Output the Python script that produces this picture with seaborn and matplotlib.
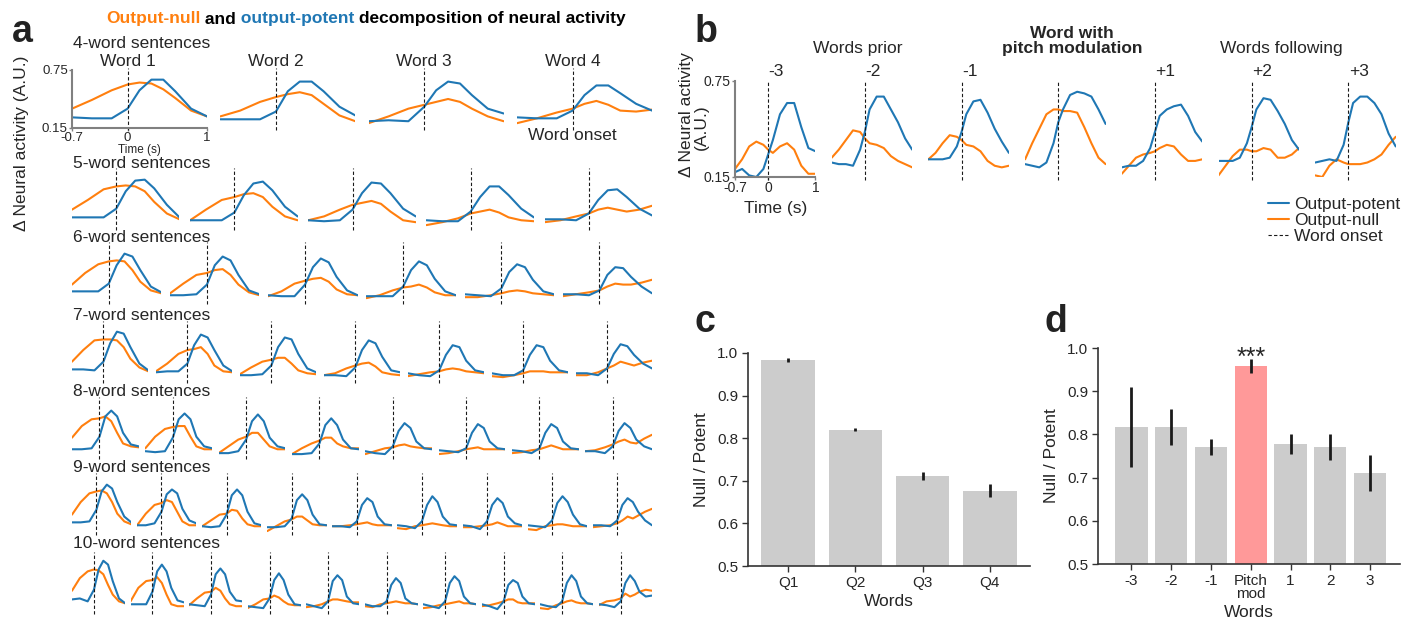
import numpy as np
import pandas as pd
import matplotlib
matplotlib.use('Agg')
import matplotlib.pyplot as plt
import seaborn as sns
from matplotlib.lines import Line2D

sns.set_theme(style='ticks')
plt.rcParams['font.family'] = ['Liberation Sans', 'DejaVu Sans']

BLUE = '#1f77b4'
ORANGE = '#ff7f0e'

# ---------------- panel a: traces per sentence length ----------------
t_a = [-0.7, -0.45, -0.2, 0.0, 0.15, 0.3, 0.45, 0.6, 0.8, 1.0]

potent_4 = [
    [0.26, 0.25, 0.25, 0.35, 0.54, 0.65, 0.65, 0.53, 0.35, 0.27],
    [0.24, 0.24, 0.24, 0.32, 0.53, 0.63, 0.63, 0.53, 0.37, 0.28],
    [0.22, 0.23, 0.22, 0.37, 0.54, 0.63, 0.61, 0.49, 0.35, 0.30],
    [0.26, 0.25, 0.25, 0.33, 0.49, 0.59, 0.59, 0.51, 0.40, 0.33],
]
null_4 = [
    [0.35, 0.44, 0.54, 0.60, 0.62, 0.61, 0.55, 0.46, 0.33, 0.27],
    [0.27, 0.33, 0.42, 0.47, 0.50, 0.52, 0.49, 0.40, 0.28, 0.22],
    [0.20, 0.27, 0.35, 0.39, 0.42, 0.45, 0.42, 0.35, 0.27, 0.22],
    [0.20, 0.25, 0.31, 0.35, 0.40, 0.43, 0.39, 0.33, 0.32, 0.34],
]
potent_5 = [
    [0.26, 0.26, 0.26, 0.35, 0.53, 0.64, 0.65, 0.56, 0.39, 0.26],
    [0.23, 0.23, 0.23, 0.31, 0.49, 0.61, 0.63, 0.54, 0.37, 0.27],
    [0.23, 0.22, 0.23, 0.34, 0.51, 0.62, 0.61, 0.51, 0.35, 0.27],
    [0.23, 0.22, 0.22, 0.32, 0.47, 0.58, 0.58, 0.49, 0.35, 0.26],
    [0.24, 0.24, 0.23, 0.30, 0.44, 0.54, 0.55, 0.47, 0.35, 0.28],
]
null_5 = [
    [0.34, 0.44, 0.55, 0.58, 0.59, 0.58, 0.53, 0.42, 0.30, 0.24],
    [0.23, 0.34, 0.44, 0.47, 0.50, 0.51, 0.47, 0.37, 0.27, 0.23],
    [0.23, 0.27, 0.34, 0.39, 0.41, 0.43, 0.40, 0.32, 0.23, 0.21],
    [0.18, 0.21, 0.25, 0.30, 0.32, 0.34, 0.31, 0.26, 0.23, 0.22],
    [0.21, 0.23, 0.27, 0.30, 0.34, 0.36, 0.34, 0.32, 0.34, 0.38],
]
potent_6 = [
    [0.26, 0.26, 0.26, 0.34, 0.53, 0.65, 0.62, 0.48, 0.31, 0.25],
    [0.22, 0.22, 0.23, 0.33, 0.53, 0.62, 0.58, 0.43, 0.27, 0.23],
    [0.22, 0.21, 0.21, 0.33, 0.51, 0.60, 0.56, 0.41, 0.27, 0.22],
    [0.21, 0.21, 0.21, 0.31, 0.48, 0.57, 0.53, 0.39, 0.26, 0.22],
    [0.23, 0.22, 0.21, 0.29, 0.46, 0.54, 0.51, 0.38, 0.26, 0.23],
    [0.23, 0.23, 0.22, 0.27, 0.43, 0.51, 0.50, 0.41, 0.31, 0.24],
]
null_6 = [
    [0.33, 0.45, 0.54, 0.57, 0.58, 0.57, 0.48, 0.36, 0.27, 0.24],
    [0.24, 0.34, 0.43, 0.45, 0.48, 0.49, 0.43, 0.33, 0.25, 0.22],
    [0.21, 0.26, 0.34, 0.37, 0.39, 0.40, 0.36, 0.28, 0.23, 0.22],
    [0.19, 0.22, 0.27, 0.30, 0.31, 0.33, 0.30, 0.25, 0.22, 0.22],
    [0.20, 0.20, 0.22, 0.24, 0.26, 0.27, 0.26, 0.24, 0.23, 0.22],
    [0.21, 0.23, 0.25, 0.27, 0.31, 0.34, 0.33, 0.33, 0.35, 0.38],
]
potent_7 = [
    [0.27, 0.27, 0.26, 0.35, 0.54, 0.66, 0.64, 0.50, 0.33, 0.26],
    [0.24, 0.25, 0.25, 0.33, 0.52, 0.63, 0.60, 0.47, 0.31, 0.25],
    [0.21, 0.21, 0.22, 0.31, 0.50, 0.60, 0.58, 0.43, 0.28, 0.24],
    [0.21, 0.21, 0.20, 0.29, 0.47, 0.57, 0.54, 0.40, 0.26, 0.24],
    [0.23, 0.21, 0.20, 0.26, 0.42, 0.52, 0.50, 0.36, 0.26, 0.24],
    [0.23, 0.21, 0.21, 0.26, 0.42, 0.52, 0.50, 0.36, 0.26, 0.24],
    [0.23, 0.23, 0.21, 0.28, 0.43, 0.53, 0.51, 0.42, 0.33, 0.28],
]
null_7 = [
    [0.35, 0.47, 0.57, 0.58, 0.58, 0.57, 0.50, 0.38, 0.29, 0.25],
    [0.25, 0.33, 0.43, 0.47, 0.48, 0.50, 0.43, 0.31, 0.25, 0.24],
    [0.22, 0.29, 0.35, 0.37, 0.39, 0.39, 0.33, 0.26, 0.23, 0.22],
    [0.21, 0.23, 0.28, 0.31, 0.33, 0.34, 0.30, 0.24, 0.22, 0.21],
    [0.20, 0.22, 0.24, 0.25, 0.27, 0.28, 0.27, 0.25, 0.24, 0.23],
    [0.20, 0.19, 0.21, 0.23, 0.25, 0.25, 0.25, 0.24, 0.24, 0.24],
    [0.21, 0.21, 0.24, 0.28, 0.31, 0.35, 0.33, 0.31, 0.34, 0.36],
]
potent_8 = [
    [0.23, 0.23, 0.24, 0.36, 0.57, 0.63, 0.57, 0.40, 0.28, 0.26],
    [0.21, 0.20, 0.21, 0.35, 0.54, 0.60, 0.54, 0.36, 0.26, 0.24],
    [0.19, 0.19, 0.21, 0.33, 0.52, 0.59, 0.52, 0.35, 0.26, 0.24],
    [0.18, 0.18, 0.19, 0.29, 0.48, 0.55, 0.48, 0.33, 0.24, 0.23],
    [0.21, 0.19, 0.18, 0.26, 0.42, 0.50, 0.45, 0.31, 0.24, 0.23],
    [0.22, 0.21, 0.20, 0.24, 0.40, 0.49, 0.45, 0.31, 0.24, 0.23],
    [0.22, 0.21, 0.19, 0.24, 0.40, 0.49, 0.45, 0.31, 0.24, 0.23],
    [0.21, 0.21, 0.19, 0.26, 0.42, 0.50, 0.45, 0.33, 0.26, 0.23],
]
null_8 = [
    [0.35, 0.47, 0.54, 0.55, 0.57, 0.52, 0.40, 0.29, 0.26, 0.25],
    [0.24, 0.36, 0.44, 0.46, 0.47, 0.47, 0.36, 0.26, 0.23, 0.23],
    [0.19, 0.26, 0.33, 0.36, 0.40, 0.40, 0.33, 0.26, 0.23, 0.23],
    [0.18, 0.24, 0.29, 0.32, 0.35, 0.35, 0.29, 0.26, 0.24, 0.24],
    [0.18, 0.21, 0.24, 0.25, 0.27, 0.28, 0.26, 0.25, 0.24, 0.24],
    [0.18, 0.19, 0.21, 0.23, 0.24, 0.25, 0.23, 0.23, 0.23, 0.23],
    [0.19, 0.20, 0.22, 0.23, 0.25, 0.27, 0.25, 0.23, 0.23, 0.23],
    [0.21, 0.22, 0.25, 0.28, 0.31, 0.33, 0.30, 0.29, 0.34, 0.38],
]
potent_9 = [
    [0.26, 0.26, 0.27, 0.39, 0.58, 0.65, 0.61, 0.47, 0.32, 0.26],
    [0.23, 0.23, 0.25, 0.37, 0.55, 0.60, 0.56, 0.40, 0.28, 0.25],
    [0.22, 0.21, 0.22, 0.34, 0.54, 0.60, 0.54, 0.37, 0.25, 0.23],
    [0.21, 0.21, 0.22, 0.30, 0.49, 0.55, 0.49, 0.34, 0.24, 0.23],
    [0.22, 0.22, 0.21, 0.27, 0.44, 0.51, 0.47, 0.32, 0.24, 0.23],
    [0.23, 0.22, 0.20, 0.27, 0.44, 0.53, 0.47, 0.32, 0.24, 0.23],
    [0.23, 0.22, 0.19, 0.27, 0.44, 0.51, 0.46, 0.32, 0.25, 0.23],
    [0.23, 0.22, 0.21, 0.28, 0.46, 0.53, 0.47, 0.34, 0.24, 0.22],
    [0.23, 0.23, 0.22, 0.28, 0.44, 0.51, 0.47, 0.37, 0.28, 0.23],
]
null_9 = [
    [0.34, 0.47, 0.56, 0.58, 0.59, 0.56, 0.47, 0.35, 0.27, 0.24],
    [0.23, 0.35, 0.44, 0.46, 0.49, 0.47, 0.37, 0.27, 0.23, 0.23],
    [0.22, 0.28, 0.34, 0.35, 0.39, 0.38, 0.30, 0.24, 0.22, 0.22],
    [0.17, 0.22, 0.27, 0.29, 0.32, 0.32, 0.28, 0.24, 0.23, 0.23],
    [0.22, 0.22, 0.23, 0.24, 0.25, 0.26, 0.24, 0.23, 0.23, 0.23],
    [0.20, 0.19, 0.22, 0.23, 0.24, 0.25, 0.24, 0.23, 0.22, 0.22],
    [0.21, 0.21, 0.22, 0.23, 0.24, 0.26, 0.24, 0.22, 0.22, 0.22],
    [0.19, 0.18, 0.22, 0.23, 0.24, 0.24, 0.23, 0.22, 0.22, 0.22],
    [0.21, 0.22, 0.23, 0.25, 0.28, 0.32, 0.30, 0.33, 0.37, 0.40],
]
potent_10 = [
    [0.28, 0.29, 0.26, 0.38, 0.59, 0.68, 0.64, 0.47, 0.29, 0.24],
    [0.23, 0.23, 0.23, 0.36, 0.57, 0.64, 0.57, 0.40, 0.27, 0.25],
    [0.23, 0.22, 0.21, 0.33, 0.54, 0.60, 0.54, 0.36, 0.27, 0.26],
    [0.21, 0.20, 0.19, 0.29, 0.48, 0.55, 0.48, 0.33, 0.23, 0.22],
    [0.23, 0.21, 0.19, 0.26, 0.47, 0.53, 0.48, 0.31, 0.24, 0.23],
    [0.23, 0.21, 0.21, 0.26, 0.43, 0.50, 0.45, 0.29, 0.24, 0.23],
    [0.23, 0.21, 0.19, 0.26, 0.45, 0.52, 0.47, 0.31, 0.24, 0.23],
    [0.23, 0.21, 0.18, 0.26, 0.43, 0.48, 0.45, 0.31, 0.24, 0.23],
    [0.23, 0.21, 0.20, 0.26, 0.45, 0.53, 0.47, 0.31, 0.24, 0.23],
    [0.23, 0.22, 0.20, 0.26, 0.45, 0.53, 0.47, 0.36, 0.31, 0.32],
]
null_10 = [
    [0.37, 0.50, 0.57, 0.59, 0.58, 0.54, 0.43, 0.33, 0.26, 0.24],
    [0.26, 0.40, 0.47, 0.48, 0.51, 0.45, 0.33, 0.23, 0.21, 0.21],
    [0.22, 0.29, 0.35, 0.36, 0.40, 0.37, 0.29, 0.23, 0.21, 0.21],
    [0.19, 0.23, 0.28, 0.29, 0.32, 0.30, 0.26, 0.23, 0.22, 0.22],
    [0.20, 0.21, 0.23, 0.26, 0.28, 0.28, 0.27, 0.26, 0.25, 0.25],
    [0.21, 0.20, 0.23, 0.24, 0.25, 0.26, 0.25, 0.24, 0.24, 0.23],
    [0.19, 0.20, 0.22, 0.23, 0.24, 0.25, 0.26, 0.24, 0.24, 0.23],
    [0.21, 0.22, 0.24, 0.26, 0.28, 0.28, 0.25, 0.24, 0.24, 0.24],
    [0.19, 0.18, 0.22, 0.24, 0.26, 0.27, 0.25, 0.24, 0.24, 0.23],
    [0.22, 0.26, 0.27, 0.29, 0.34, 0.31, 0.33, 0.36, 0.38, 0.37],
]

# ---------------- panel b: around the pitch-modulated word ----------------
t_b = [-0.7, -0.55, -0.4, -0.25, -0.1, 0.0, 0.1, 0.25, 0.4, 0.55, 0.7, 0.85, 1.0]
b_labels = ['-3', '-2', '-1', '', '+1', '+2', '+3']
b_potent = [
    [0.18, 0.20, 0.16, 0.15, 0.20, 0.29, 0.38, 0.54, 0.61, 0.61, 0.46, 0.33, 0.31],
    [0.24, 0.23, 0.23, 0.22, 0.32, 0.43, 0.57, 0.65, 0.65, 0.57, 0.49, 0.39, 0.32],
    [0.26, 0.26, 0.26, 0.27, 0.34, 0.43, 0.54, 0.62, 0.63, 0.55, 0.45, 0.37, 0.30],
    [0.23, 0.22, 0.21, 0.24, 0.36, 0.49, 0.57, 0.66, 0.68, 0.67, 0.65, 0.57, 0.48],
    [0.21, 0.22, 0.22, 0.25, 0.33, 0.43, 0.53, 0.57, 0.59, 0.60, 0.53, 0.43, 0.37],
    [0.25, 0.25, 0.25, 0.27, 0.36, 0.46, 0.57, 0.64, 0.63, 0.56, 0.48, 0.38, 0.32],
    [0.24, 0.25, 0.26, 0.25, 0.35, 0.49, 0.61, 0.65, 0.65, 0.61, 0.54, 0.42, 0.34],
]
b_null = [
    [0.20, 0.26, 0.34, 0.37, 0.35, 0.32, 0.30, 0.34, 0.36, 0.32, 0.22, 0.17, 0.17],
    [0.27, 0.32, 0.38, 0.44, 0.43, 0.39, 0.36, 0.35, 0.33, 0.28, 0.25, 0.23, 0.21],
    [0.26, 0.30, 0.36, 0.41, 0.40, 0.38, 0.35, 0.34, 0.31, 0.25, 0.22, 0.21, 0.22],
    [0.26, 0.36, 0.45, 0.54, 0.57, 0.57, 0.56, 0.56, 0.55, 0.46, 0.36, 0.27, 0.23],
    [0.17, 0.22, 0.27, 0.29, 0.30, 0.31, 0.33, 0.35, 0.34, 0.29, 0.25, 0.25, 0.26],
    [0.16, 0.22, 0.28, 0.32, 0.32, 0.31, 0.31, 0.33, 0.32, 0.27, 0.27, 0.29, 0.33],
    [0.16, 0.15, 0.22, 0.26, 0.24, 0.23, 0.23, 0.23, 0.24, 0.26, 0.29, 0.35, 0.40],
]

# ---------------- panels c and d: null / potent ratio ----------------
c_words = ['Q1', 'Q2', 'Q3', 'Q4']
c_ratio = [0.983, 0.820, 0.712, 0.677]
c_err = [0.005, 0.004, 0.009, 0.016]

d_words = ['-3', '-2', '-1', 'Pitch\nmod', '1', '2', '3']
d_ratio = [0.817, 0.817, 0.771, 0.958, 0.778, 0.771, 0.711]
d_err = [0.093, 0.042, 0.019, 0.017, 0.024, 0.030, 0.042]
d_colors = ['#cccccc', '#cccccc', '#cccccc', '#ff9999', '#cccccc', '#cccccc', '#cccccc']

W, H = 1408, 627
fig = plt.figure(figsize=(W / 100, H / 100), dpi=100)
bg = fig.add_axes([0, 0, 1, 1])
bg.set_axis_off()


def px_axes(x0, y0, x1, y1):
    return fig.add_axes([x0 / W, 1 - y1 / H, (x1 - x0) / W, (y1 - y0) / H])


def ftext(x, y, s, **kw):
    return bg.text(x / W, 1 - y / H, s, transform=bg.transAxes, **kw)


def draw_traces(ax, t, pot, nul, lw=1.5):
    df = pd.DataFrame({'t': t, 'Output-potent': pot, 'Output-null': nul})
    long = df.melt('t', var_name='part', value_name='act')
    sns.lineplot(data=long, x='t', y='act', hue='part',
                 hue_order=['Output-null', 'Output-potent'],
                 palette={'Output-potent': BLUE, 'Output-null': ORANGE},
                 lw=lw, legend=False, solid_joinstyle='round', ax=ax)
    ax.axvline(0, ymin=-0.03, ymax=1, color='k', ls=(0, (3, 2)), lw=0.8, clip_on=False)
    ax.set_xlim(-0.7, 1.0)
    ax.set_xlabel('')
    ax.set_ylabel('')


def style_first(ax, fs):
    sns.despine(ax=ax)
    for s in ['left', 'bottom']:
        ax.spines[s].set_color('#808080')
        ax.spines[s].set_linewidth(1.5)
    ax.spines['left'].set_bounds(0.15, 0.75)
    ax.set_xticks([-0.7, 0, 1], ['-0.7', '0', '1'])
    ax.set_yticks([0.15, 0.75], ['0.15', '0.75'])
    ax.tick_params(length=2, width=1, pad=1, labelsize=fs, color='#808080')
    ax.patch.set_alpha(0)


# ---- panel a ----
row_title = {4: 44, 5: 163, 6: 238, 7: 315, 8: 391, 9: 468, 10: 544}
row_bottom = {4: 128, 5: 228, 6: 302, 7: 381, 8: 457, 9: 533, 10: 612}
rows_pot = {4: potent_4, 5: potent_5, 6: potent_6, 7: potent_7, 8: potent_8, 9: potent_9, 10: potent_10}
rows_nul = {4: null_4, 5: null_5, 6: null_6, 7: null_7, 8: null_8, 9: null_9, 10: null_10}
ylim_a = (0.15, 0.77)
ax_h = (ylim_a[1] - ylim_a[0]) * 96.7

for n in range(4, 11):
    step = 580 / (n - 0.09)
    w = 0.91 * step
    ftext(73, row_title[n], f'{n}-word sentences', fontsize=12.5, va='center')
    for i in range(n):
        x0 = 72 + i * step
        ax = px_axes(x0, row_bottom[n] - ax_h, x0 + w, row_bottom[n])
        draw_traces(ax, t_a, rows_pot[n][i], rows_nul[n][i])
        ax.set_ylim(*ylim_a)
        if n == 4:
            onset = x0 + w * 0.7 / 1.7
            ftext(onset, 61, f'Word {i + 1}', fontsize=12.5, ha='center', va='center')
            if i == 3:
                ftext(onset, 135, 'Word onset', fontsize=12.5, ha='center', va='center')
        if n == 4 and i == 0:
            style_first(ax, 9.5)
            ax.set_xlabel('Time (s)', fontsize=8.5, labelpad=0)
        else:
            ax.set_axis_off()

ftext(22, 143, '\u0394 Neural activity (A.U.)', fontsize=12.5, rotation=90,
      ha='center', va='center')

# ---- panel b ----
for i in range(7):
    x0 = 735 + i * 96.7
    ax = px_axes(x0, 80.5, x0 + 80.5, 177)
    draw_traces(ax, t_b, b_potent[i], b_null[i])
    ax.set_ylim(0.15, 0.75)
    if b_labels[i]:
        ftext(x0 + 33.5, 72, b_labels[i], fontsize=12.5, ha='left', va='center')
    if i == 0:
        style_first(ax, 10)
        ax.set_xlabel('Time (s)', fontsize=12.5, labelpad=4)
    else:
        ax.set_axis_off()

ftext(687, 115, '\u0394 Neural activity', fontsize=12.5, rotation=90, ha='center', va='center')
ftext(701, 127, '(A.U.)', fontsize=12.5, rotation=90, ha='center', va='center')
ftext(858, 49, 'Words prior', fontsize=12.5, ha='center', va='center')
ftext(1072, 41, 'Word with\npitch modulation', fontsize=12.5, fontweight='bold',
      ha='center', va='center', linespacing=0.95)
ftext(1281, 49, 'Words following', fontsize=12.5, ha='center', va='center')

handles = [Line2D([], [], color=BLUE, lw=1.5), Line2D([], [], color=ORANGE, lw=1.5),
           Line2D([], [], color='k', lw=0.8, ls=(0, (3, 2)))]
fig.legend(handles, ['Output-potent', 'Output-null', 'Word onset'],
           loc='upper right', bbox_to_anchor=(1400 / W, 1 - 197 / H), frameon=False,
           fontsize=12.5, handlelength=1.2, handletextpad=0.3, labelspacing=0.05,
           borderpad=0, borderaxespad=0)


def style_bar(ax):
    sns.despine(ax=ax)
    for s in ['left', 'bottom']:
        ax.spines[s].set_color('#333333')
        ax.spines[s].set_linewidth(1.2)
    ax.set_ylim(0.5, 1.0)
    ax.set_yticks([0.5, 0.6, 0.7, 0.8, 0.9, 1.0], ['0.5', '0.6', '0.7', '0.8', '0.9', '1.0'])
    ax.tick_params(length=4, width=1, labelsize=11, color='#333333', pad=3)
    ax.set_ylabel('Null / Potent', fontsize=12.5, labelpad=6)
    ax.set_xlabel('Words', fontsize=12.5, labelpad=3)
    ax.patch.set_alpha(0)


# ---- panel c ----
ax_c = px_axes(748, 353, 1030, 566)
dfc = pd.DataFrame({'Words': c_words, 'ratio': c_ratio})
sns.barplot(data=dfc, x='Words', y='ratio', color='#cccccc', saturation=1,
            errorbar=None, width=0.8, linewidth=0, ax=ax_c)
ax_c.errorbar(np.arange(len(c_words)), c_ratio, yerr=c_err, fmt='none',
              ecolor='k', elinewidth=2, capsize=0)
ax_c.set_xlim(-0.6, 3.6)
style_bar(ax_c)

# ---- panel d ----
ax_d = px_axes(1098, 348, 1400, 564)
dfd = pd.DataFrame({'Words': d_words, 'ratio': d_ratio})
sns.barplot(data=dfd, x='Words', y='ratio', hue='Words', palette=d_colors,
            saturation=1, errorbar=None, width=0.81, linewidth=0, legend=False, ax=ax_d)
ax_d.errorbar(np.arange(len(d_words)), d_ratio, yerr=d_err, fmt='none',
              ecolor='k', elinewidth=2, capsize=0)
ax_d.set_xlim(-0.84, 6.75)
style_bar(ax_d)
for lab in ax_d.get_xticklabels():
    lab.set_linespacing(0.9)
ax_d.text(3, 0.962, '***', ha='center', va='baseline', fontsize=18, clip_on=False)

# ---- panel letters ----
for x, y, s in [(12, 42, 'a'), (695, 42, 'b'), (695, 332, 'c'), (1045, 332, 'd')]:
    ftext(x, y, s, fontsize=27, fontweight='bold', va='baseline', color='#222222')

# ---- two-colour title ----
title_parts = [('Output-null', ORANGE), (' and', 'black'), (' output-potent', BLUE),
               (' decomposition of neural activity', 'black')]
first = ftext(110, 19, title_parts[0][0], color=title_parts[0][1], fontsize=12.5,
              fontweight='bold', va='center')
prev = first
for s, c in title_parts[1:]:
    prev = bg.annotate(s, xy=(1, 0), xycoords=prev, va='bottom', color=c,
                       fontsize=12.5, fontweight='bold')
fig.canvas.draw()
r = fig.canvas.get_renderer()
left = first.get_window_extent(r).x0
right = prev.get_window_extent(r).x1
first.set_x(first.get_position()[0] + (366 - (left + right) / 2) / W)

fig.savefig('out.png', dpi=100)
